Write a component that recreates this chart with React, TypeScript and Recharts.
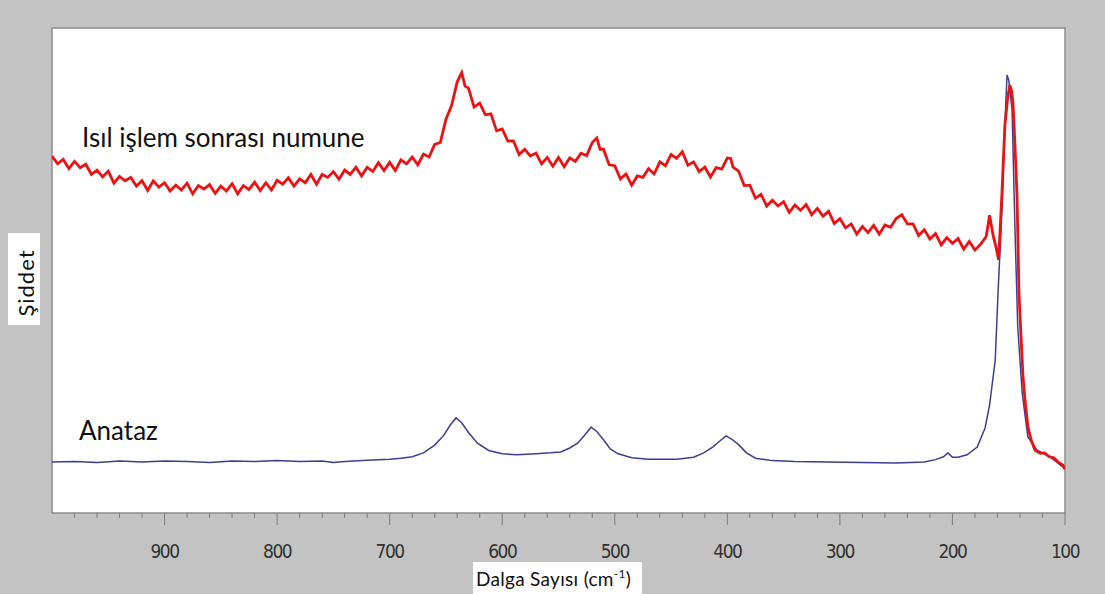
import React from "react";
import { ComposedChart, Line, XAxis, YAxis, ReferenceArea, CartesianGrid } from "recharts";

// Raman shift (cm-1) and relative intensity
const treatedSpectrum: [number, number][] = [
  [1000, 73.6], [995, 72.0], [990, 72.9], [985, 71.0], [980, 72.5], [975, 71.2], [970, 71.9], [965, 69.8],
  [960, 70.7], [955, 69.3], [950, 70.5], [945, 68.0], [940, 69.4], [935, 68.5], [930, 69.2], [925, 67.4],
  [920, 68.5], [915, 66.5], [910, 68.5], [905, 67.2], [900, 68.1], [895, 66.4], [890, 67.6], [885, 66.6],
  [880, 68.0], [875, 65.8], [870, 67.5], [865, 66.8], [860, 67.7], [855, 65.9], [850, 67.4], [845, 66.4],
  [840, 67.9], [835, 65.8], [830, 67.5], [825, 66.7], [820, 68.2], [815, 66.5], [810, 68.1], [805, 66.6],
  [800, 68.6], [795, 67.8], [790, 69.1], [785, 67.4], [780, 68.9], [775, 68.1], [770, 69.8], [765, 67.8],
  [760, 69.8], [755, 69.2], [750, 70.4], [745, 68.8], [740, 70.7], [735, 69.8], [730, 71.3], [725, 69.5],
  [720, 71.3], [715, 70.4], [710, 72.2], [705, 70.6], [700, 72.3], [695, 70.6], [690, 72.8], [685, 72.0],
  [680, 73.4], [675, 71.8], [670, 74.0], [665, 73.4], [660, 76.0], [655, 76.4], [650, 81.2], [645, 84.0],
  [640, 88.9], [636, 90.8], [633, 88.0], [630, 87.6], [625, 83.7], [620, 84.5], [615, 82.1], [610, 82.3],
  [605, 78.8], [600, 79.2], [595, 76.7], [590, 76.7], [585, 73.9], [580, 75.0], [575, 73.6], [570, 74.2],
  [565, 72.0], [560, 73.3], [555, 71.5], [550, 73.3], [545, 71.4], [540, 73.2], [535, 72.5], [530, 74.2],
  [525, 73.7], [520, 76.4], [516, 77.3], [513, 75.0], [510, 75.0], [505, 71.8], [500, 71.6], [495, 68.9],
  [490, 69.9], [485, 67.6], [480, 69.5], [475, 69.2], [470, 71.0], [465, 69.9], [460, 72.4], [455, 71.6],
  [450, 73.9], [445, 73.1], [440, 74.5], [435, 71.7], [430, 72.4], [425, 70.4], [420, 71.3], [415, 69.3],
  [410, 71.2], [405, 70.9], [400, 73.2], [397, 73.1], [395, 71.3], [390, 70.5], [385, 67.5], [380, 67.6],
  [375, 64.9], [370, 65.7], [365, 63.3], [360, 64.5], [355, 63.3], [350, 64.2], [345, 62.0], [340, 63.5],
  [335, 62.4], [330, 63.6], [325, 61.5], [320, 62.8], [315, 61.2], [310, 62.2], [305, 59.7], [300, 60.7],
  [295, 58.8], [290, 59.6], [285, 57.5], [280, 59.1], [275, 57.8], [270, 59.3], [265, 57.5], [260, 59.4],
  [255, 58.9], [250, 60.7], [245, 61.5], [240, 59.6], [235, 59.6], [230, 57.2], [225, 58.4], [220, 56.5],
  [215, 57.6], [210, 55.3], [205, 56.8], [200, 55.6], [195, 56.6], [190, 54.4], [185, 56.0], [180, 54.2],
  [175, 55.4], [170, 57.0], [167, 61.4], [164, 57.4], [161, 54.5], [159, 52.2], [156, 66.0], [153.4, 80.0],
  [151, 85.5], [149, 88.2], [147.5, 87.0], [146.2, 84.5], [144.5, 76.0], [142.7, 66.0], [140.9, 45.4],
  [139, 36.0], [137.3, 28.0], [135, 22.0], [132.9, 17.7], [130, 15.0], [126.7, 13.0], [122, 12.3],
  [118, 12.4], [114, 11.6], [110, 11.4], [106, 10.5], [102, 9.9], [100, 9.0],
];

const anatazSpectrum: [number, number][] = [
  [1000, 10.5], [980, 10.6], [960, 10.4], [940, 10.7], [920, 10.5], [900, 10.7], [880, 10.6], [860, 10.4],
  [840, 10.7], [820, 10.6], [800, 10.8], [780, 10.6], [760, 10.7], [750, 10.4], [740, 10.6], [720, 10.9],
  [700, 11.1], [690, 11.3], [680, 11.6], [670, 12.4], [660, 14.0], [652, 16.0], [646, 18.2], [641, 19.6],
  [636, 18.6], [630, 16.6], [622, 14.4], [612, 12.9], [600, 12.2], [587, 12.0], [570, 12.2], [557, 12.4],
  [548, 12.6], [540, 13.4], [533, 14.4], [527, 16.0], [521, 17.7], [516, 16.8], [510, 15.1], [504, 13.2],
  [497, 12.2], [485, 11.4], [470, 11.1], [445, 11.1], [430, 11.5], [421, 12.4], [413, 13.6], [407, 14.8],
  [401, 15.9], [396, 15.2], [390, 14.1], [383, 12.4], [375, 11.3], [360, 10.8], [340, 10.6], [310, 10.5],
  [280, 10.4], [250, 10.3], [225, 10.5], [215, 11.0], [208, 11.6], [204, 12.4], [200, 11.5], [195, 11.5],
  [187, 12.0], [178, 13.6], [171, 17.5], [167, 22.3], [162, 31.5], [159.5, 45.4], [156, 62.5], [153.5, 79.6],
  [151.5, 90.3], [150, 89.3], [147, 83.1], [144.5, 59.0], [142, 38.4], [138, 24.7], [133, 15.7], [125, 13.0],
  [113, 11.5], [102, 9.5], [100, 9.3],
];

const majorTicks = [900, 800, 700, 600, 500, 400, 300, 200, 100];
const minorTicks = [
  980, 960, 940, 920, 880, 860, 840, 820, 780, 760, 740, 720, 680, 660, 640, 620, 580, 560, 540, 520,
  480, 460, 440, 420, 380, 360, 340, 320, 280, 260, 240, 220, 180, 160, 140, 120,
];

const treatedData = treatedSpectrum.map(([shift, intensity]) => ({ shift, intensity }));
const anatazData = anatazSpectrum.map(([shift, intensity]) => ({ shift, intensity }));
const axisTicks = [...minorTicks, ...majorTicks].sort((a, b) => b - a);

const labelFont = "Lato, 'Open Sans', sans-serif";

const ShiftTick = (props: any) => {
  const { x, y, payload } = props;
  const major = majorTicks.includes(payload.value);
  return (
    <g>
      <line x1={x} x2={x} y1={y} y2={y + (major ? 12 : 5)} stroke="#7c7c7c" />
      {major && (
        <text
          x={x}
          y={y + 45}
          textAnchor="middle"
          fontFamily="'DejaVu Sans Condensed', 'Liberation Sans', sans-serif"
          fontSize={19}
          letterSpacing={-1.5}
          fill="#333"
        >
          {payload.value}
        </text>
      )}
    </g>
  );
};

const App = () => {
  return (
    <div style={{ position: "absolute", left: 0, top: 0, width: 1105, height: 594, background: "#c3c3c3" }}>
      <ComposedChart width={1105} height={594} margin={{ top: 28, right: 40, bottom: 51, left: 52 }}>
        <CartesianGrid fill="#fff" fillOpacity={1} stroke="none" />
        <XAxis
          dataKey="shift"
          type="number"
          domain={[100, 1000]}
          reversed
          ticks={axisTicks}
          interval={0}
          axisLine={false}
          tickLine={false}
          tickSize={0}
          tickMargin={0}
          height={30}
          tick={<ShiftTick />}
          allowDataOverflow
        />
        <YAxis hide type="number" domain={[0, 100]} allowDataOverflow />
        <ReferenceArea x1={1000} x2={100} y1={0} y2={100} fill="none" stroke="#8c8c8c" strokeWidth={1.5} />
        <text x={82} y={147} fontFamily={labelFont} fontSize={26} fill="#111">
          Isıl işlem sonrası numune
        </text>
        <text x={79} y={440} fontFamily={labelFont} fontSize={26} fill="#111">
          Anataz
        </text>
        <Line
          data={anatazData}
          dataKey="intensity"
          type="linear"
          stroke="#3d3d94"
          strokeWidth={1.5}
          dot={false}
          isAnimationActive={false}
        />
        <Line
          data={treatedData}
          dataKey="intensity"
          type="linear"
          stroke="#ea1212"
          strokeWidth={2.8}
          dot={false}
          isAnimationActive={false}
        />
        <rect x={8} y={233} width={32} height={92} fill="#fff" />
        <text
          transform="translate(25 283) rotate(-90)"
          textAnchor="middle"
          dominantBaseline="central"
          fontFamily={labelFont}
          fontSize={22}
          letterSpacing={1}
          fill="#111"
        >
          Şiddet
        </text>
        <rect x={473} y={562} width={169} height={32} fill="#fff" />
        <text x={476} y={586} fontFamily={labelFont} fontSize={19} letterSpacing={0.3} fill="#111">
          Dalga Sayısı (cm
          <tspan fontSize={12} dy={-8}>-1</tspan>
          <tspan dy={8}>)</tspan>
        </text>
      </ComposedChart>
    </div>
  );
};

export default App;
